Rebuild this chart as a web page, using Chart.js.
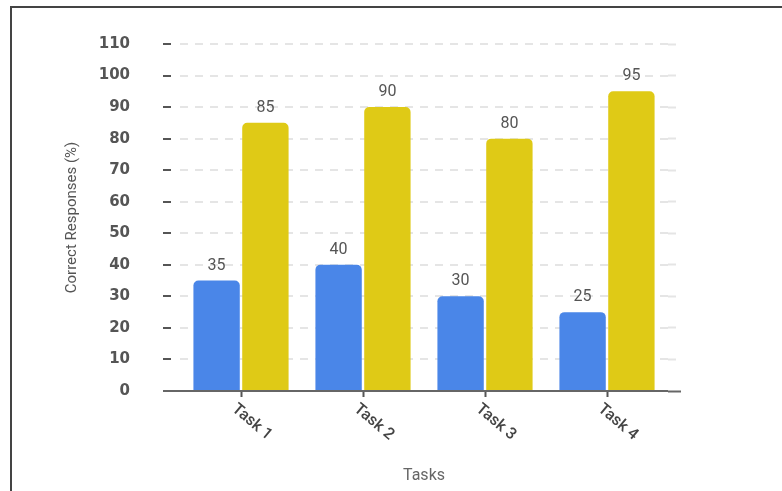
<!DOCTYPE html>
<html>
<head>
<meta charset="utf-8">
<script src="https://cdn.jsdelivr.net/npm/chart.js@4"></script>
<style>
  html, body { margin: 0; padding: 0; background: #fff; overflow: hidden; }
  #wrap { position: relative; width: 782px; height: 491px; overflow: hidden; }
  #frame { position: absolute; left: 10px; top: 6px; width: 800px; height: 500px;
           border-left: 2px solid #444; border-top: 2px solid #444; pointer-events: none; }
</style>
</head>
<body>
<div id="wrap">
  <canvas id="chart" width="782" height="491"></canvas>
  <div id="frame"></div>
</div>
<script>
// chart values
const tasks = ["Task 1", "Task 2", "Task 3", "Task 4"];
const firstSeries = [35, 40, 30, 25];
const secondSeries = [85, 90, 80, 95];
const yTicks = [0, 10, 20, 30, 40, 50, 60, 70, 80, 90, 100, 110];

const isZero = c => c.tick && c.tick.value === 0;
const gridGray = "rgba(0,0,0,0.1)";

// value above each bar
const barLabels = {
  id: "barLabels",
  afterDraw(chart) {
    const ctx = chart.ctx;
    ctx.save();
    ctx.font = "16px Roboto";
    ctx.fillStyle = "#555";
    ctx.textAlign = "center";
    ctx.textBaseline = "alphabetic";
    chart.data.datasets.forEach((ds, i) => {
      chart.getDatasetMeta(i).data.forEach((bar, j) => {
        ctx.fillText(ds.data[j], bar.x, bar.y - 11);
      });
    });
    ctx.restore();
  }
};

// category labels slanted downwards to the right
const slantedTicks = {
  id: "slantedTicks",
  afterDraw(chart) {
    const xs = chart.scales.x;
    const ctx = chart.ctx;
    ctx.save();
    ctx.font = "500 16px Roboto";
    ctx.fillStyle = "#444";
    ctx.textAlign = "left";
    ctx.textBaseline = "top";
    xs.ticks.forEach((t, i) => {
      ctx.save();
      ctx.translate(xs.getPixelForTick(i) - 2, xs.top + 10);
      ctx.rotate(40 * Math.PI / 180);
      ctx.fillText(xs.getLabelForValue(t.value), 0, 0);
      ctx.restore();
    });
    ctx.restore();
  }
};

new Chart(document.getElementById("chart"), {
  type: "bar",
  data: {
    labels: tasks,
    datasets: [
      { label: "Series 1", data: firstSeries, backgroundColor: "#4a86e8", borderRadius: 5 },
      { label: "Series 2", data: secondSeries, backgroundColor: "#dfca16", borderRadius: 5 }
    ]
  },
  options: {
    responsive: false,
    animation: false,
    categoryPercentage: 0.8,
    barPercentage: 0.95,
    layout: { padding: { top: 44, right: 101, bottom: 0, left: 0 } },
    plugins: { legend: { display: false }, tooltip: { enabled: false } },
    scales: {
      x: {
        grid: { offset: false, drawOnChartArea: false, tickLength: 6, tickWidth: 2, tickColor: "#555" },
        border: { display: false },
        ticks: { display: false },
        title: {
          display: true, text: "Tasks", color: "#666",
          font: { family: "Roboto", size: 16 }, padding: { top: 0, bottom: 5 }
        },
        afterFit: s => { s.height = 100; }
      },
      y: {
        min: 0, max: 110, z: 1,
        afterBuildTicks: s => { s.ticks = yTicks.map(v => ({ value: v })); },
        grid: {
          color: c => isZero(c) ? "#666" : gridGray,
          lineWidth: 2,
          tickLength: 17,
          tickWidth: 2,
          tickColor: c => isZero(c) ? "#666" : "#555",
          tickBorderDash: c => isZero(c) ? [] : [8, 30]
        },
        border: { display: false, dash: c => isZero(c) ? [] : [8, 7] },
        ticks: {
          padding: 33, color: "#555",
          font: { family: "DejaVu Sans", size: 15, weight: "bold" }
        },
        title: {
          display: true, text: "Correct Responses (%)", color: "#555",
          font: { family: "Roboto", size: 15 }, padding: { top: 63, bottom: 0 }
        },
        afterFit: s => { s.width = 180; }
      },
      y2: {
        position: "right", min: 0, max: 110, z: 1,
        afterBuildTicks: s => { s.ticks = yTicks.map(v => ({ value: v })); },
        grid: {
          drawOnChartArea: false,
          tickLength: 13,
          tickWidth: 2,
          tickColor: c => isZero(c) ? "#666" : gridGray,
          tickBorderDash: c => isZero(c) ? [] : [8, 7]
        },
        border: { display: false },
        ticks: { display: false },
        afterFit: s => { s.width = 13; }
      }
    }
  },
  plugins: [barLabels, slantedTicks]
});
</script>
</body>
</html>
